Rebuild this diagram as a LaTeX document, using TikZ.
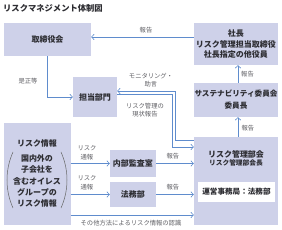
\documentclass[tikz,border=0pt]{standalone}
\usepackage{fontspec}
\setmainfont{Noto Sans CJK JP}
\usetikzlibrary{arrows.meta, calc}
\definecolor{boxfill}{RGB}{206,209,233}
\definecolor{linkblue}{RGB}{95,140,205}
\definecolor{txtgray}{RGB}{45,45,50}
\definecolor{lblgray}{RGB}{95,95,100}
\tikzset{
  org box/.style={
    fill=boxfill,
    inner sep=0pt,
    align=center,
    text=txtgray,
    font=\bfseries\fontsize{8}{10.7}\selectfont
  },
  box text/.style={
    inner sep=0pt,
    align=center,
    text=txtgray,
    font=\bfseries\fontsize{8}{11.3}\selectfont
  },
  link/.style={
    -{Straight Barb[length=2.5pt, width=5.5pt]},
    draw=linkblue,
    line width=0.6pt
  },
  link label/.style={
    inner sep=0pt,
    align=center,
    text=lblgray,
    font=\fontsize{6.3}{8.6}\selectfont
  },
  paren/.style={
    draw=gray!80!black,
    line width=0.5pt
  }
}

\begin{document}
\begin{tikzpicture}[x=1pt, y=-1pt]
    \useasboundingbox (0,0) rectangle (282,230);

    % 見出し
    \node[box text, anchor=west, font=\bfseries\fontsize{8.3}{10}\selectfont] (title) at (3,8) {リスクマネジメント体制図};

    % 上段
    \node[org box, minimum width=87pt, minimum height=33pt] (board) at (47.5,39.5) {取締役会};
    \node[org box, minimum width=44pt, minimum height=40pt] (dept) at (95,97) {担当部門};
    \node[org box, minimum width=84pt, minimum height=42pt] (pres) at (236,44) {社長\\リスク管理担当取締役\\社長指定の他役員};
    \node[org box, minimum width=84pt, minimum height=34pt,
      font=\bfseries\fontsize{7.6}{12}\selectfont] (sus) at (236,100) {サステナビリティ委員会\\委員長};

    % リスク管理部会
    \node[org box, minimum width=84pt, minimum height=88pt] (rmc) at (236,181) {};
    \node[box text] (rmcname) at (236,154) {リスク管理部会};
    \node[box text, font=\bfseries\fontsize{6.7}{8}\selectfont] (rmchead) at (236,163) {リスク管理部会長};
    \node[box text, fill=white, minimum width=77pt, minimum height=20pt,
      font=\bfseries\fontsize{7.6}{9}\selectfont] (office) at (236.5,192) {運営事務局：法務部};

    % リスク情報
    \node[org box, minimum width=67pt, minimum height=102pt] (info) at (37,174) {};
    \node[box text] (infotitle) at (37,143) {リスク情報};
    \node[box text] (infobody) at (37,181) {国内外の\\子会社を\\含むオイレス\\グループの\\リスク情報};
    \draw[paren] (13,152) .. controls (5,170) and (5,190) .. (13,208);
    \draw[paren] (61,152) .. controls (69,170) and (69,190) .. (61,208);

    % 下段
    \node[org box, minimum width=46pt, minimum height=27pt] (audit) at (133,163.5) {内部監査室};
    \node[org box, minimum width=46pt, minimum height=25pt] (legal) at (133,194.5) {法務部};

    % 矢印
    \coordinate (mon turn) at (175,91);
    \coordinate (rep turn) at (172,94);
    \draw[link] ([yshift=7pt]pres.west) -- ([yshift=7pt]pres.west -| board.east);
    \draw[link] ([xshift=2pt]sus.north) -- ([xshift=2pt]pres.south);
    \draw[link] ([xshift=2pt]rmc.north) -- ([xshift=2pt]sus.south);
    \draw[link] (board.south) |- (dept.west);
    \draw[link] ([yshift=41pt]rmc.west) -| (mon turn) -- (mon turn -| dept.east);
    \draw[link] (rep turn -| dept.east) -- (rep turn) |- ([yshift=34pt]rmc.west);
    \draw[link] (info.east |- audit.west) -- (audit.west);
    \draw[link] (info.east |- legal.west) -- (legal.west);
    \draw[link] (audit.east) -- (audit.east -| rmc.west);
    \draw[link] (legal.east) -- (legal.east -| rmc.west);
    \draw[link] ([yshift=-41pt]info.east) -- ([yshift=-41pt]info.east -| rmc.west);

    % ラベル
    \node[link label] (l1) at (146,30) {報告};
    \node[link label] (l2) at (247.5,74) {報告};
    \node[link label] (l3) at (248,128) {報告};
    \node[link label] (l4) at (28,81) {是正等};
    \node[link label] (l5) at (151,80) {モニタリング・\\助言};
    \node[link label] (l6) at (145,110) {リスク管理の\\現状報告};
    \node[link label] (l7) at (87,153) {リスク\\通報};
    \node[link label] (l8) at (87,183) {リスク\\通報};
    \node[link label] (l9) at (173,156) {報告};
    \node[link label] (l10) at (173,187) {報告};
    \node[link label] (l11) at (131,223) {その他方法によるリスク情報の認識};

  \end{tikzpicture}
\end{document}
